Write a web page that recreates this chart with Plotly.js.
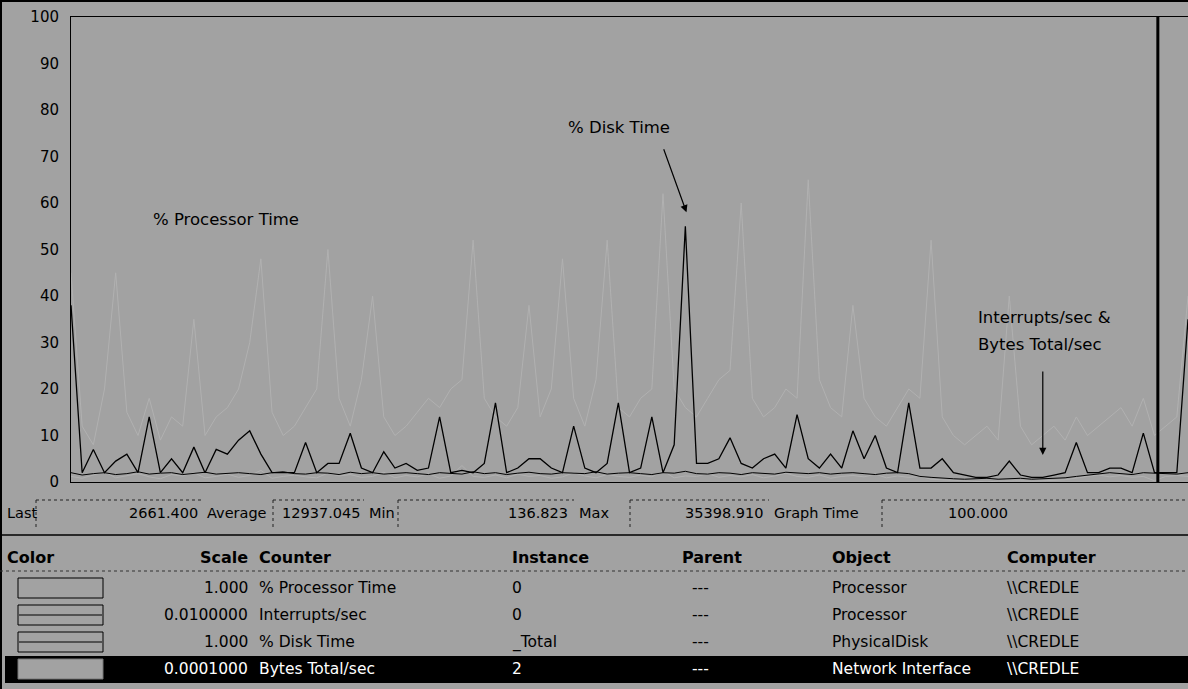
<!DOCTYPE html>
<html><head><meta charset="utf-8">
<script src="https://cdn.plot.ly/plotly-3.0.1.min.js"></script>
<style>html,body{margin:0;padding:0;background:#a2a2a2;}#chart{width:1188px;height:689px;}</style>
</head><body><div id="chart"></div>
<script>
// ---- data (sample index 0..100, Graph Time = 100) ----
const diskTime = [38,2,7,2,4.5,6,2,14,2,5, 2,7.5,2,7,6,9,11,6,2,2, 2,8.5,2,4,4,10.5,3,2,6.5,3,
  4,2.5,3,14,2,2.5,2,4,17,2, 3,5,5,3,2,12,3,2,4,17, 2,3,14,2,8,55,4,4,5,9.5,
  4,3,5,6,3,14.5,5,3,6,3, 11,5,10,3,2,17,3,3,5,2, 1.5,1,1,1.5,4.5,1.5,1,1,1.5,2,
  8.5,2,2,3,3,2,10.5,2,2,2,35];
const processorTime = [45,12,8,20,45,15,10,18,9,14, 12,35,10,14,16,20,30,48,15,10, 12,16,20,50,18,12,22,40,14,10,
  12,15,18,16,20,22,52,18,14,12, 16,38,14,20,48,18,12,22,52,16, 14,18,20,62,20,16,14,18,22,24,
  60,18,14,16,20,18,65,22,16,14, 38,18,14,12,16,20,18,52,14,10, 8,10,12,9,40,12,8,10,12,9,
  14,10,12,14,16,12,18,10,12,14,40];
const interruptsRaw = [200,150,180,200,160,180,220,170,190,200, 160,180,210,170,190,200,180,160,200,220,
  180,170,200,190,160,210,180,200,170,190, 200,180,160,200,190,170,220,180,200,160,
  190,210,180,170,200,190,180,220,170,190, 200,180,160,200,190,230,180,170,200,190,
  160,200,180,170,210,190,180,200,170,190, 200,180,160,190,200,180,120,100,80,70,
  60,70,80,60,70,80,60,70,80,90, 120,150,180,200,180,160,200,190,180,170,200];
const bytesTotalRaw = [12000,8000,15000,22000,9000,14000,18000,11000,7000,16000, 13000,20000,9000,12000,17000,10000,14000,25000,8000,12000,
  15000,11000,9000,19000,13000,16000,10000,12000,21000,9000, 14000,11000,18000,8000,13000,35398.91,12000,10000,15000,9000,
  17000,12000,14000,8000,11000,20000,13000,9000,16000,12000, 10000,15000,11000,24000,9000,13000,12000,18000,10000,14000,
  11000,16000,9000,13000,19000,12000,10000,15000,8000,12000, 14000,11000,17000,9000,13000,10000,12000,6000,5000,4000,
  3000,2500,136.823,2000,3000,2500,1800,2200,3500,5000, 9000,12000,15000,11000,14000,10000,12000,2661.4,12000,14000,12000];
const counterScale = [1.0, 0.01, 1.0, 0.0001];
const yTickValues = [0,10,20,30,40,50,60,70,80,90,100];
const currentSample = [97.3];

// table / status text
const statLabels = ['Last','Average','Min','Max','Graph Time'];
const statValues = ['2661.400','12937.045','136.823','35398.910','100.000'];
const headers = ['Color','Scale','Counter','Instance','Parent','Object','Computer'];
const scaleText = ['1.000','0.0100000','1.000','0.0001000'];
const counters = ['% Processor Time','Interrupts/sec','% Disk Time','Bytes Total/sec'];
const instances = ['0','0','_Total','2'];
const parents = ['---','---','---','---'];
const objects = ['Processor','Processor','PhysicalDisk','Network Interface'];
const computers = ['\\\\CREDLE','\\\\CREDLE','\\\\CREDLE','\\\\CREDLE'];

// ---- geometry helpers (pixel -> paper) ----
const PL = 71, PR = 1188, PT = 17, PB = 482;
const px = x => (x - PL) / (PR - PL);
const py = y => (PB - y) / (PB - PT);
const FONT = 'DejaVu Sans, Liberation Sans, Arial, sans-serif';
const BG = '#a2a2a2';
const FAINT = '#b1b1b1';

const idx = diskTime.map((_, i) => i);
const scaled = (arr, s) => arr.map(v => v * s);

const traces = [
  {x: idx, y: scaled(processorTime, counterScale[0]), mode: 'lines', line: {color: FAINT, width: 1}, hoverinfo: 'skip'},
  {x: idx, y: scaled(bytesTotalRaw, counterScale[3]), mode: 'lines', line: {color: FAINT, width: 1}, hoverinfo: 'skip'},
  {x: idx, y: scaled(interruptsRaw, counterScale[1]), mode: 'lines', line: {color: '#000', width: 1}, hoverinfo: 'skip'},
  {x: idx, y: scaled(diskTime, counterScale[2]), mode: 'lines', line: {color: '#000', width: 1.3}, hoverinfo: 'skip'},
  {x: [currentSample[0], currentSample[0]], y: [0, 100], mode: 'lines', line: {color: '#000', width: 3}, hoverinfo: 'skip'}
];

const ann = [];
const shapes = [];
function t(x, y, s, anchor, opt) {
  opt = opt || {};
  ann.push({xref: 'paper', yref: 'paper', x: px(x), y: py(y), text: s, showarrow: false,
    xanchor: anchor || 'left', yanchor: 'middle',
    font: {family: FONT, size: opt.size || 15.5, color: opt.color || '#000', weight: opt.bold ? 'bold' : 'normal'}});
}
function line(x0, y0, x1, y1, color, w, dash) {
  shapes.push({type: 'line', xref: 'paper', yref: 'paper', x0: px(x0), y0: py(y0), x1: px(x1), y1: py(y1),
    line: {color: color || '#000', width: w || 1, dash: dash || 'solid'}});
}
function rect(x0, y0, x1, y1, fill, lc, lw) {
  shapes.push({type: 'rect', xref: 'paper', yref: 'paper', x0: px(x0), y0: py(y0), x1: px(x1), y1: py(y1),
    fillcolor: fill, line: {color: lc || 'rgba(0,0,0,0)', width: lw === undefined ? 1 : lw}, layer: 'below'});
}

// outer frame
line(0, 1, 1188, 1, '#000', 2);
line(1, 0, 1, 689, '#000', 2);

// plot annotations
const AF = {family: FONT, size: 16.5, color: '#000'};
ann.push({xref: 'x', yref: 'y', x: 7.2, y: 56.5, text: '% Processor Time', showarrow: false, xanchor: 'left', yanchor: 'middle', font: AF});
ann.push({xref: 'x', yref: 'y', x: 44.3, y: 76.2, text: '% Disk Time', showarrow: false, xanchor: 'left', yanchor: 'middle', font: AF});
ann.push({xref: 'x', yref: 'y', x: 81.0, y: 35.3, text: 'Interrupts/sec &', showarrow: false, xanchor: 'left', yanchor: 'middle', font: AF});
ann.push({xref: 'x', yref: 'y', x: 81.0, y: 29.5, text: 'Bytes Total/sec', showarrow: false, xanchor: 'left', yanchor: 'middle', font: AF});
ann.push({xref: 'x', yref: 'y', x: 55.1, y: 58.0, axref: 'x', ayref: 'y', ax: 53.0, ay: 72.0, text: ' ', font: {size: 1},
  showarrow: true, arrowhead: 2, arrowsize: 1.2, arrowwidth: 1.2, arrowcolor: '#000', standoff: 0, startstandoff: 0});
ann.push({xref: 'x', yref: 'y', x: 87.0, y: 5.8, axref: 'x', ayref: 'y', ax: 87.0, ay: 24.2, text: ' ', font: {size: 1},
  showarrow: true, arrowhead: 2, arrowsize: 1.2, arrowwidth: 1.2, arrowcolor: '#000', standoff: 0, startstandoff: 0});

// status row
const statY = 513;
const SF = {size: 14.5};
t(5, statY, statLabels[0], 'left', SF);
const boxL = [36, 273, 398, 630, 882];
const valR = [200, 362, 570, 765, 1010];
const labL = [205, 367, 577, 772];
for (let i = 0; i < 5; i++) {
  line(boxL[i], 500, boxL[i], 527, '#222', 1, 'dot');
  line(boxL[i], 500, i < 4 ? labL[i] - 3 : 1188, 500, '#222', 1, 'dot');
  t(valR[i], statY, statValues[i], 'right', SF);
  if (i < 4) t(labL[i], statY, statLabels[i + 1], 'left', SF);
}
line(0, 535, 1188, 535, '#000', 1.5);

// header
const hdrY = 557;
const HB = {bold: true, size: 16};
t(5, hdrY, headers[0], 'left', HB);
t(250, hdrY, headers[1], 'right', HB);
t(257, hdrY, headers[2], 'left', HB);
t(510, hdrY, headers[3], 'left', HB);
t(680, hdrY, headers[4], 'left', HB);
t(830, hdrY, headers[5], 'left', HB);
t(1005, hdrY, headers[6], 'left', HB);
line(0, 571, 1188, 571, '#333', 1, 'dot');

// rows
const rowY = [588, 615, 642, 669];
rect(5, 656, 1188, 683, '#000');
for (let i = 0; i < 4; i++) {
  const y = rowY[i];
  const sel = i === 3;
  const c = sel ? '#fff' : '#000';
  rect(18, y - 10, 103, y + 10, BG, sel ? '#777' : '#000', 1);
  if (i === 1 || i === 2) line(19, y, 102, y, '#000', 1);
  t(250, y, scaleText[i], 'right', {color: c});
  t(257, y, counters[i], 'left', {color: c});
  t(510, y, instances[i], 'left', {color: c});
  t(690, y, parents[i], 'left', {color: c});
  t(830, y, objects[i], 'left', {color: c});
  t(1005, y, computers[i], 'left', {color: c});
}

const layout = {
  width: 1188, height: 689,
  margin: {l: PL, r: 1188 - PR, t: PT, b: 689 - PB},
  paper_bgcolor: BG, plot_bgcolor: BG,
  showlegend: false,
  xaxis: {range: [0, 100], showgrid: false, zeroline: false, showticklabels: false, ticks: '',
    showline: true, linecolor: '#000', linewidth: 1, mirror: true, fixedrange: true},
  yaxis: {range: [0, 100], tickvals: yTickValues, ticktext: yTickValues.map(String), showgrid: false, zeroline: false,
    showline: true, linecolor: '#000', linewidth: 1, ticks: '', ticklabelstandoff: 8,
    tickfont: {family: FONT, size: 15, color: '#000'}, fixedrange: true},
  annotations: ann,
  shapes: shapes
};
Plotly.newPlot('chart', traces, layout, {displayModeBar: false, staticPlot: true});
</script></body></html>
